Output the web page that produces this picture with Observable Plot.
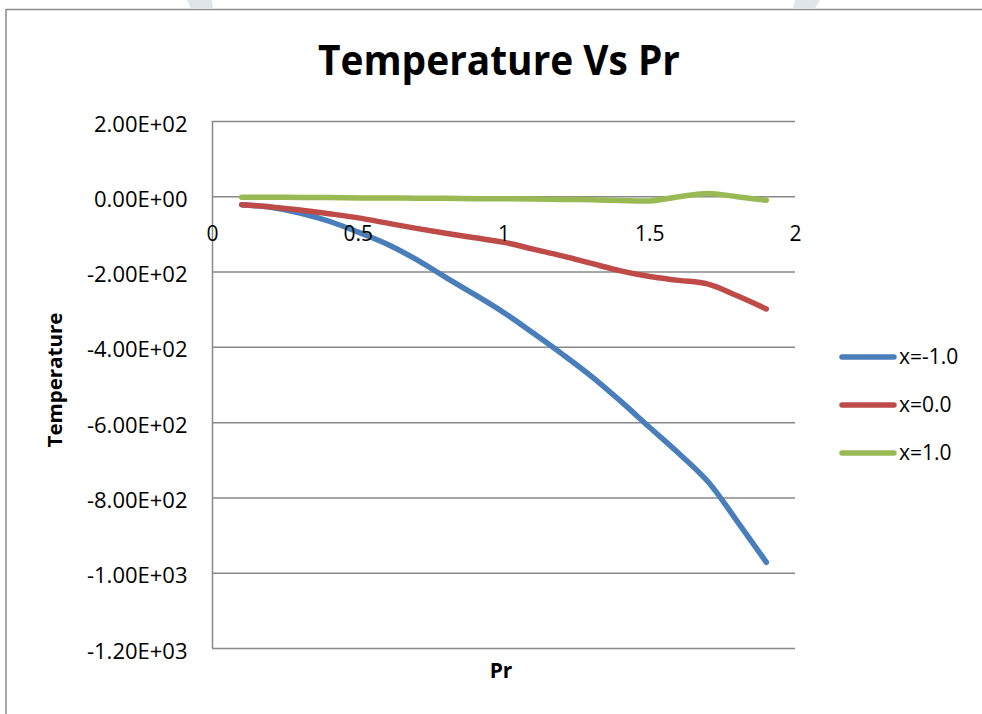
<!DOCTYPE html>
<html>
<head>
<meta charset="utf-8">
<script src="https://cdn.jsdelivr.net/npm/d3@7"></script>
<script src="https://cdn.jsdelivr.net/npm/@observablehq/plot@0.6"></script>
<style>
  body { margin: 0; background: #fff; }
  #chart { width: 982px; height: 714px; }
</style>
</head>
<body>
<div id="chart"></div>
<script>
// Prandtl number samples
const pr = [0.1, 0.2, 0.3, 0.4, 0.5, 0.6, 0.7, 0.8, 0.9, 1.0,
            1.1, 1.2, 1.3, 1.4, 1.5, 1.6, 1.7, 1.8, 1.9];

// Temperature at three positions
const tempXm1 = [-21, -28, -43, -65, -94, -126, -167, -214, -260, -308,
                 -362, -418, -477, -543, -613, -682, -757, -862, -971];
const tempX0  = [-21, -27, -35, -45, -56, -70, -84, -97, -109, -121,
                 -139, -157, -177, -197, -212, -222, -232, -263, -298];
const tempX1  = [-1, -1, -2, -2, -3, -3, -4, -4, -5, -5,
                 -6, -7, -8, -10, -11, 0, 9, 0, -9];

const seriesNames  = ["x=-1.0", "x=0.0", "x=1.0"];
const seriesColors = ["#4a7ebb", "#be4b48", "#98b954"];

const xTicks = [0, 0.5, 1, 1.5, 2];
const yTicks = [200, 0, -200, -400, -600, -800, -1000, -1200];

const rows = [];
[tempXm1, tempX0, tempX1].forEach((vals, i) =>
  vals.forEach((t, j) => rows.push({pr: pr[j], temp: t, series: seriesNames[i]})));

// Spreadsheet-style scientific notation, e.g. -1.20E+03
function sci(v) {
  const [m, e] = v.toExponential(2).split("e");
  const sign = e[0] === "-" ? "-" : "+";
  const digits = e.replace(/^[+-]/, "").padStart(2, "0");
  return `${m}E${sign}${digits}`;
}

const plot = Plot.plot({
  width: 982,
  height: 714,
  marginLeft: 212,
  marginRight: 187,
  marginTop: 121,
  marginBottom: 66,
  style: {fontFamily: "'Open Sans', sans-serif", fontSize: "20px", color: "#000", background: "#fff"},
  x: {domain: [0, 2], axis: null},
  y: {domain: [-1200, 200]},
  color: {domain: seriesNames, range: seriesColors},
  marks: [
    Plot.gridY(yTicks, {stroke: "#888", strokeOpacity: 1, strokeWidth: 1.5}),
    Plot.ruleX([0], {y1: -1200, y2: 200, stroke: "#888", strokeWidth: 1.5}),
    Plot.axisY(yTicks, {tickSize: 0, tickPadding: 25, tickFormat: sci, label: null, fontSize: 22, dy: 3}),
    Plot.line(rows, {x: "pr", y: "temp", z: "series", stroke: "series",
                     strokeWidth: 5.5, strokeLinecap: "round", curve: "catmull-rom"}),
    Plot.text(xTicks, {x: d => d, y: 0, dy: 37, text: d => String(d), fontSize: 21, fill: "#000"})
  ]
});

const svg = d3.select(plot);

// outer chart border (top and left edges)
svg.append("path")
  .attr("d", "M6,714 L6,9.5 L982,9.5")
  .attr("fill", "none").attr("stroke", "#8c8c8c").attr("stroke-width", 1.5);

// faint page ornaments at the very top
svg.append("path").attr("d", "M187,0 L212,0 L213,8.5 L191,8.5 Z").attr("fill", "#dfe5e9");
svg.append("path").attr("d", "M795,0 L820,0 L815,8.5 L793,8.5 Z").attr("fill", "#dfe5e9");

// title
svg.append("text")
  .attr("x", 499).attr("y", 75)
  .attr("text-anchor", "middle")
  .attr("font-family", "'Open Sans', sans-serif")
  .attr("font-weight", "bold").attr("font-size", 42)
  .attr("textLength", 362).attr("lengthAdjust", "spacingAndGlyphs")
  .text("Temperature Vs Pr");

// axis titles
svg.append("text")
  .attr("transform", "translate(62,380) rotate(-90)")
  .attr("text-anchor", "middle")
  .attr("font-family", "'Open Sans', sans-serif")
  .attr("font-weight", "bold").attr("font-size", 19)
  .attr("textLength", 135).attr("lengthAdjust", "spacingAndGlyphs")
  .text("Temperature");

svg.append("text")
  .attr("x", 501).attr("y", 678)
  .attr("text-anchor", "middle")
  .attr("font-family", "'Open Sans', sans-serif")
  .attr("font-weight", "bold").attr("font-size", 21)
  .text("Pr");

// legend
const legend = svg.append("g").attr("text-anchor", "start");
seriesNames.forEach((name, i) => {
  const y = 357 + 48 * i;
  legend.append("line")
    .attr("x1", 842).attr("x2", 894).attr("y1", y).attr("y2", y)
    .attr("stroke", seriesColors[i]).attr("stroke-width", 5.5).attr("stroke-linecap", "round");
  legend.append("text")
    .attr("x", 899).attr("y", y + 7)
    .attr("text-anchor", "start")
    .attr("font-family", "'Open Sans', sans-serif").attr("font-size", 21)
    .text(name);
});

document.getElementById("chart").appendChild(plot);
</script>
</body>
</html>
